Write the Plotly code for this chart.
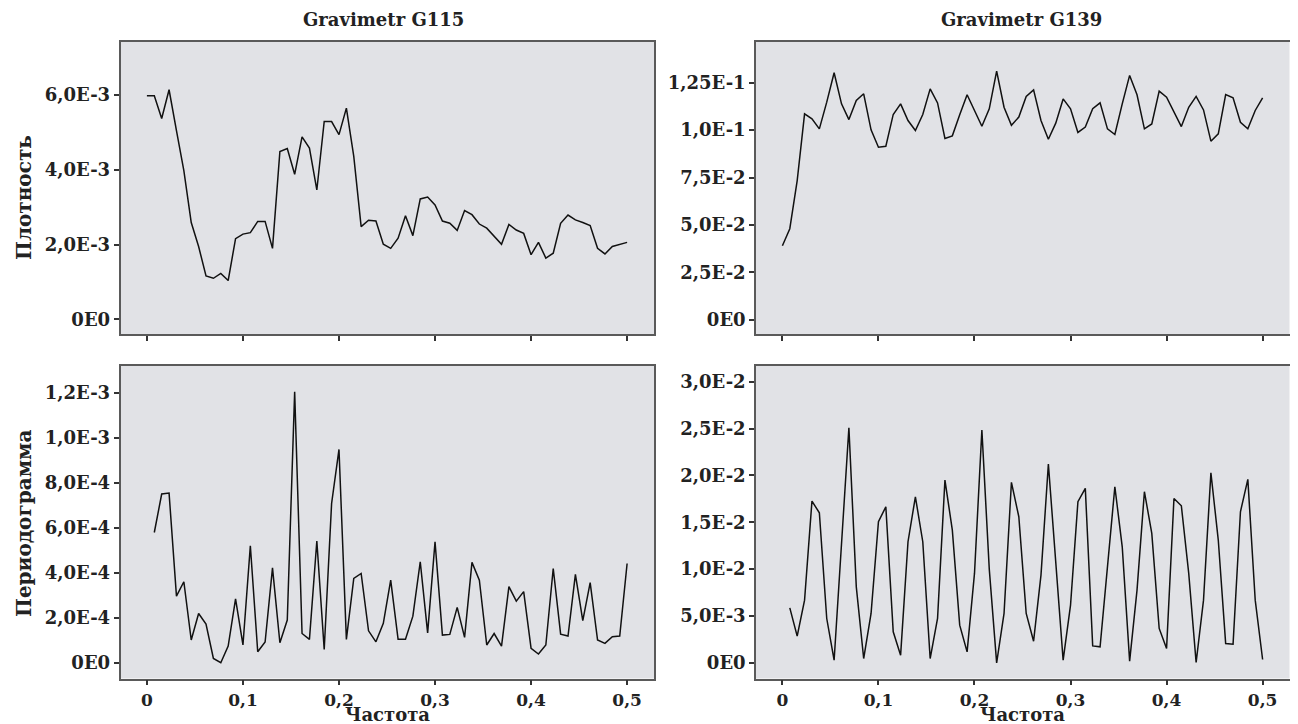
import plotly.graph_objects as go

# ---------------- data ----------------
N_SERIES = 130  # length of the series -> Fourier frequencies k/130
freq_density = [k / N_SERIES for k in range(0, 66)]
freq_periodogram = [k / N_SERIES for k in range(1, 66)]

# Gravimetr G115 – spectral density (x1e-3)
g115_density_e3 = [5.98, 5.98, 5.37, 6.14, 5.05, 3.98, 2.59, 1.95, 1.16, 1.10,
                   1.23, 1.04, 2.16, 2.28, 2.32, 2.62, 2.62, 1.90, 4.49, 4.57,
                   3.88, 4.88, 4.58, 3.46, 5.29, 5.29, 4.94, 5.65, 4.36, 2.48,
                   2.65, 2.63, 2.01, 1.90, 2.17, 2.77, 2.24, 3.22, 3.27, 3.06,
                   2.63, 2.57, 2.38, 2.91, 2.80, 2.55, 2.44, 2.21, 2.01, 2.54,
                   2.39, 2.30, 1.73, 2.06, 1.64, 1.77, 2.57, 2.79, 2.66, 2.59,
                   2.51, 1.90, 1.75, 1.95, 2.01, 2.06]

# Gravimetr G139 – spectral density
g139_density = [0.039, 0.048, 0.0734, 0.1086, 0.106, 0.1007, 0.1148, 0.1303, 0.1139, 0.1056,
                0.1157, 0.1192, 0.1002, 0.091, 0.0915, 0.1083, 0.1139, 0.1051, 0.0998, 0.1083,
                0.1218, 0.1144, 0.0956, 0.097, 0.1081, 0.1187, 0.1104, 0.1021, 0.1113, 0.1312,
                0.1121, 0.1026, 0.1069, 0.1178, 0.1213, 0.1051, 0.0952, 0.1037, 0.1165, 0.1113,
                0.0988, 0.1016, 0.1113, 0.1144, 0.1007, 0.0977, 0.1139, 0.1289, 0.1187, 0.1007,
                0.1033, 0.1206, 0.1174, 0.1095, 0.1019, 0.1121, 0.1178, 0.1107, 0.0942, 0.0981,
                0.1188, 0.1171, 0.1042, 0.1007, 0.1104, 0.1171]

# Gravimetr G115 – periodogram (x1e-4)
g115_period_e4 = [5.79, 7.50, 7.54, 2.96, 3.60, 1.01, 2.19, 1.72, 0.19, 0.0,
                  0.74, 2.84, 0.79, 5.20, 0.49, 0.92, 4.22, 0.89, 1.90, 12.04,
                  1.30, 1.04, 5.41, 0.59, 7.08, 9.48, 1.04, 3.75, 3.97, 1.42,
                  0.93, 1.75, 3.67, 1.04, 1.04, 2.07, 4.49, 1.33, 5.38, 1.23,
                  1.26, 2.46, 1.13, 4.46, 3.67, 0.79, 1.30, 0.74, 3.38, 2.74,
                  3.16, 0.64, 0.39, 0.79, 4.19, 1.27, 1.19, 3.93, 1.87, 3.56,
                  1.01, 0.86, 1.16, 1.19, 4.41]

# Gravimetr G139 – periodogram (x1e-3)
g139_period_e3 = [5.87, 2.85, 6.69, 17.26, 16.01, 4.73, 0.28, 12.5, 25.09, 8.11,
                  0.46, 5.27, 15.05, 16.65, 3.31, 0.82, 12.92, 17.72, 12.92, 0.46,
                  4.73, 19.50, 14.16, 4.02, 1.17, 9.54, 24.84, 10.0, 0.0, 5.27,
                  19.25, 15.59, 5.27, 2.31, 9.36, 21.21, 10.96, 0.28, 6.16, 17.19,
                  18.61, 1.81, 1.71, 10.25, 18.79, 12.38, 0.18, 7.76, 18.26, 13.81,
                  3.67, 1.53, 17.54, 16.76, 9.54, 0.04, 6.69, 20.28, 13.10, 2.06,
                  1.99, 16.12, 19.57, 6.69, 0.36]

g115_density = [v * 1e-3 for v in g115_density_e3]
g115_period = [v * 1e-4 for v in g115_period_e4]
g139_period = [v * 1e-3 for v in g139_period_e3]

x_tickvals = [0, 0.1, 0.2, 0.3, 0.4, 0.5]
x_ticktext = ["0", "0,1", "0,2", "0,3", "0,4", "0,5"]

tl_vals = [0, 0.002, 0.004, 0.006]
tl_text = ["0E0", "2,0E-3", "4,0E-3", "6,0E-3"]
tr_vals = [0, 0.025, 0.05, 0.075, 0.1, 0.125]
tr_text = ["0E0", "2,5E-2", "5,0E-2", "7,5E-2", "1,0E-1", "1,25E-1"]
bl_vals = [0, 2e-4, 4e-4, 6e-4, 8e-4, 1e-3, 1.2e-3]
bl_text = ["0E0", "2,0E-4", "4,0E-4", "6,0E-4", "8,0E-4", "1,0E-3", "1,2E-3"]
br_vals = [0, 0.005, 0.01, 0.015, 0.02, 0.025, 0.03]
br_text = ["0E0", "5,0E-3", "1,0E-2", "1,5E-2", "2,0E-2", "2,5E-2", "3,0E-2"]

col_titles = ["Gravimetr G115", "Gravimetr G139"]
row_titles = ["Плотность", "Периодограмма"]
x_title = "Частота"

# ---------------- figure ----------------
# the page body has an 8px margin, so the figure is sized to the visible area
OFF = 8
W, H = 1298 - OFF, 724 - OFF
FONT = "DejaVu Serif"
LINE = dict(color="#111111", width=1.5)

fig = go.Figure()
fig.add_trace(go.Scatter(x=freq_density, y=g115_density, mode="lines", line=LINE,
                         xaxis="x", yaxis="y", showlegend=False))
fig.add_trace(go.Scatter(x=freq_density, y=g139_density, mode="lines", line=LINE,
                         xaxis="x2", yaxis="y2", showlegend=False))
fig.add_trace(go.Scatter(x=freq_periodogram, y=g115_period, mode="lines", line=LINE,
                         xaxis="x3", yaxis="y3", showlegend=False))
fig.add_trace(go.Scatter(x=freq_periodogram, y=g139_period, mode="lines", line=LINE,
                         xaxis="x4", yaxis="y4", showlegend=False))


def fx(p):
    return (p - OFF) / W


def fy(p):
    return 1 - (p - OFF) / H


def px_x(a, b):
    return [fx(a), fx(b)]


def px_y(top, bottom):
    return [fy(bottom), fy(top)]


left_dom = px_x(120.5, 654)
right_dom = px_x(756, 1289.5)
top_dom = px_y(41.5, 334)
bot_dom = px_y(366, 678.5)

ytickfont = dict(family=FONT, size=18, color="#222222", weight="bold")
xtickfont = dict(family=FONT, size=17, color="#222222", weight="bold")


def xaxis(domain, anchor, labels):
    return dict(domain=domain, anchor=anchor, range=[-0.0275, 0.528],
                tickvals=x_tickvals, ticktext=x_ticktext, showticklabels=labels,
                ticks="outside", ticklen=5, tickwidth=1.5, tickcolor="#333333",
                showline=True, mirror=True, linecolor="#5a5a5a", linewidth=1.5,
                showgrid=False, zeroline=False, tickfont=xtickfont)


def yaxis(domain, anchor, rng, vals, text):
    return dict(domain=domain, anchor=anchor, range=rng, tickvals=vals, ticktext=text,
                ticks="outside", ticklen=5, tickwidth=1.5, tickcolor="#333333",
                showline=True, mirror=True, linecolor="#5a5a5a", linewidth=1.5,
                showgrid=False, zeroline=False, tickfont=ytickfont)


fig.update_layout(
    width=W, height=H,
    margin=dict(l=0, r=0, t=0, b=0),
    paper_bgcolor="white",
    plot_bgcolor="#e1e2e6",
    xaxis=xaxis(left_dom, "y", False),
    xaxis2=xaxis(right_dom, "y2", False),
    xaxis3=xaxis(left_dom, "y3", True),
    xaxis4=xaxis(right_dom, "y4", True),
    yaxis=yaxis(top_dom, "x", [-0.39e-3, 7.43e-3], tl_vals, tl_text),
    yaxis2=yaxis(top_dom, "x2", [-0.00757, 0.1468], tr_vals, tr_text),
    yaxis3=yaxis(bot_dom, "x3", [-0.70e-4, 13.19e-4], bl_vals, bl_text),
    yaxis4=yaxis(bot_dom, "x4", [-1.67e-3, 31.67e-3], br_vals, br_text),
)

ann_font_title = dict(family=FONT, size=18, color="#222222", weight="bold")
ann_font_axis = dict(family=FONT, size=20, color="#222222", weight="bold")
ann_font_xtitle = dict(family=FONT, size=18, color="#222222", weight="bold")
annotations = [
    dict(text=col_titles[0], x=fx(383), y=fy(19), xref="paper", yref="paper",
         showarrow=False, font=ann_font_title, xanchor="center", yanchor="middle"),
    dict(text=col_titles[1], x=fx(1021), y=fy(19), xref="paper", yref="paper",
         showarrow=False, font=ann_font_title, xanchor="center", yanchor="middle"),
    dict(text=row_titles[0], x=fx(24), y=fy(198), xref="paper", yref="paper",
         showarrow=False, font=ann_font_axis, textangle=-90,
         xanchor="center", yanchor="middle"),
    dict(text=row_titles[1], x=fx(24), y=fy(524), xref="paper", yref="paper",
         showarrow=False, font=ann_font_axis, textangle=-90,
         xanchor="center", yanchor="middle"),
    dict(text=x_title, x=fx(387), y=0, xref="paper", yref="paper",
         showarrow=False, font=ann_font_xtitle, xanchor="center", yanchor="bottom",
         yshift=-3),
    dict(text=x_title, x=fx(1022), y=0, xref="paper", yref="paper",
         showarrow=False, font=ann_font_xtitle, xanchor="center", yanchor="bottom",
         yshift=-3),
]
fig.update_layout(annotations=annotations)

fig.write_html("out.html")
